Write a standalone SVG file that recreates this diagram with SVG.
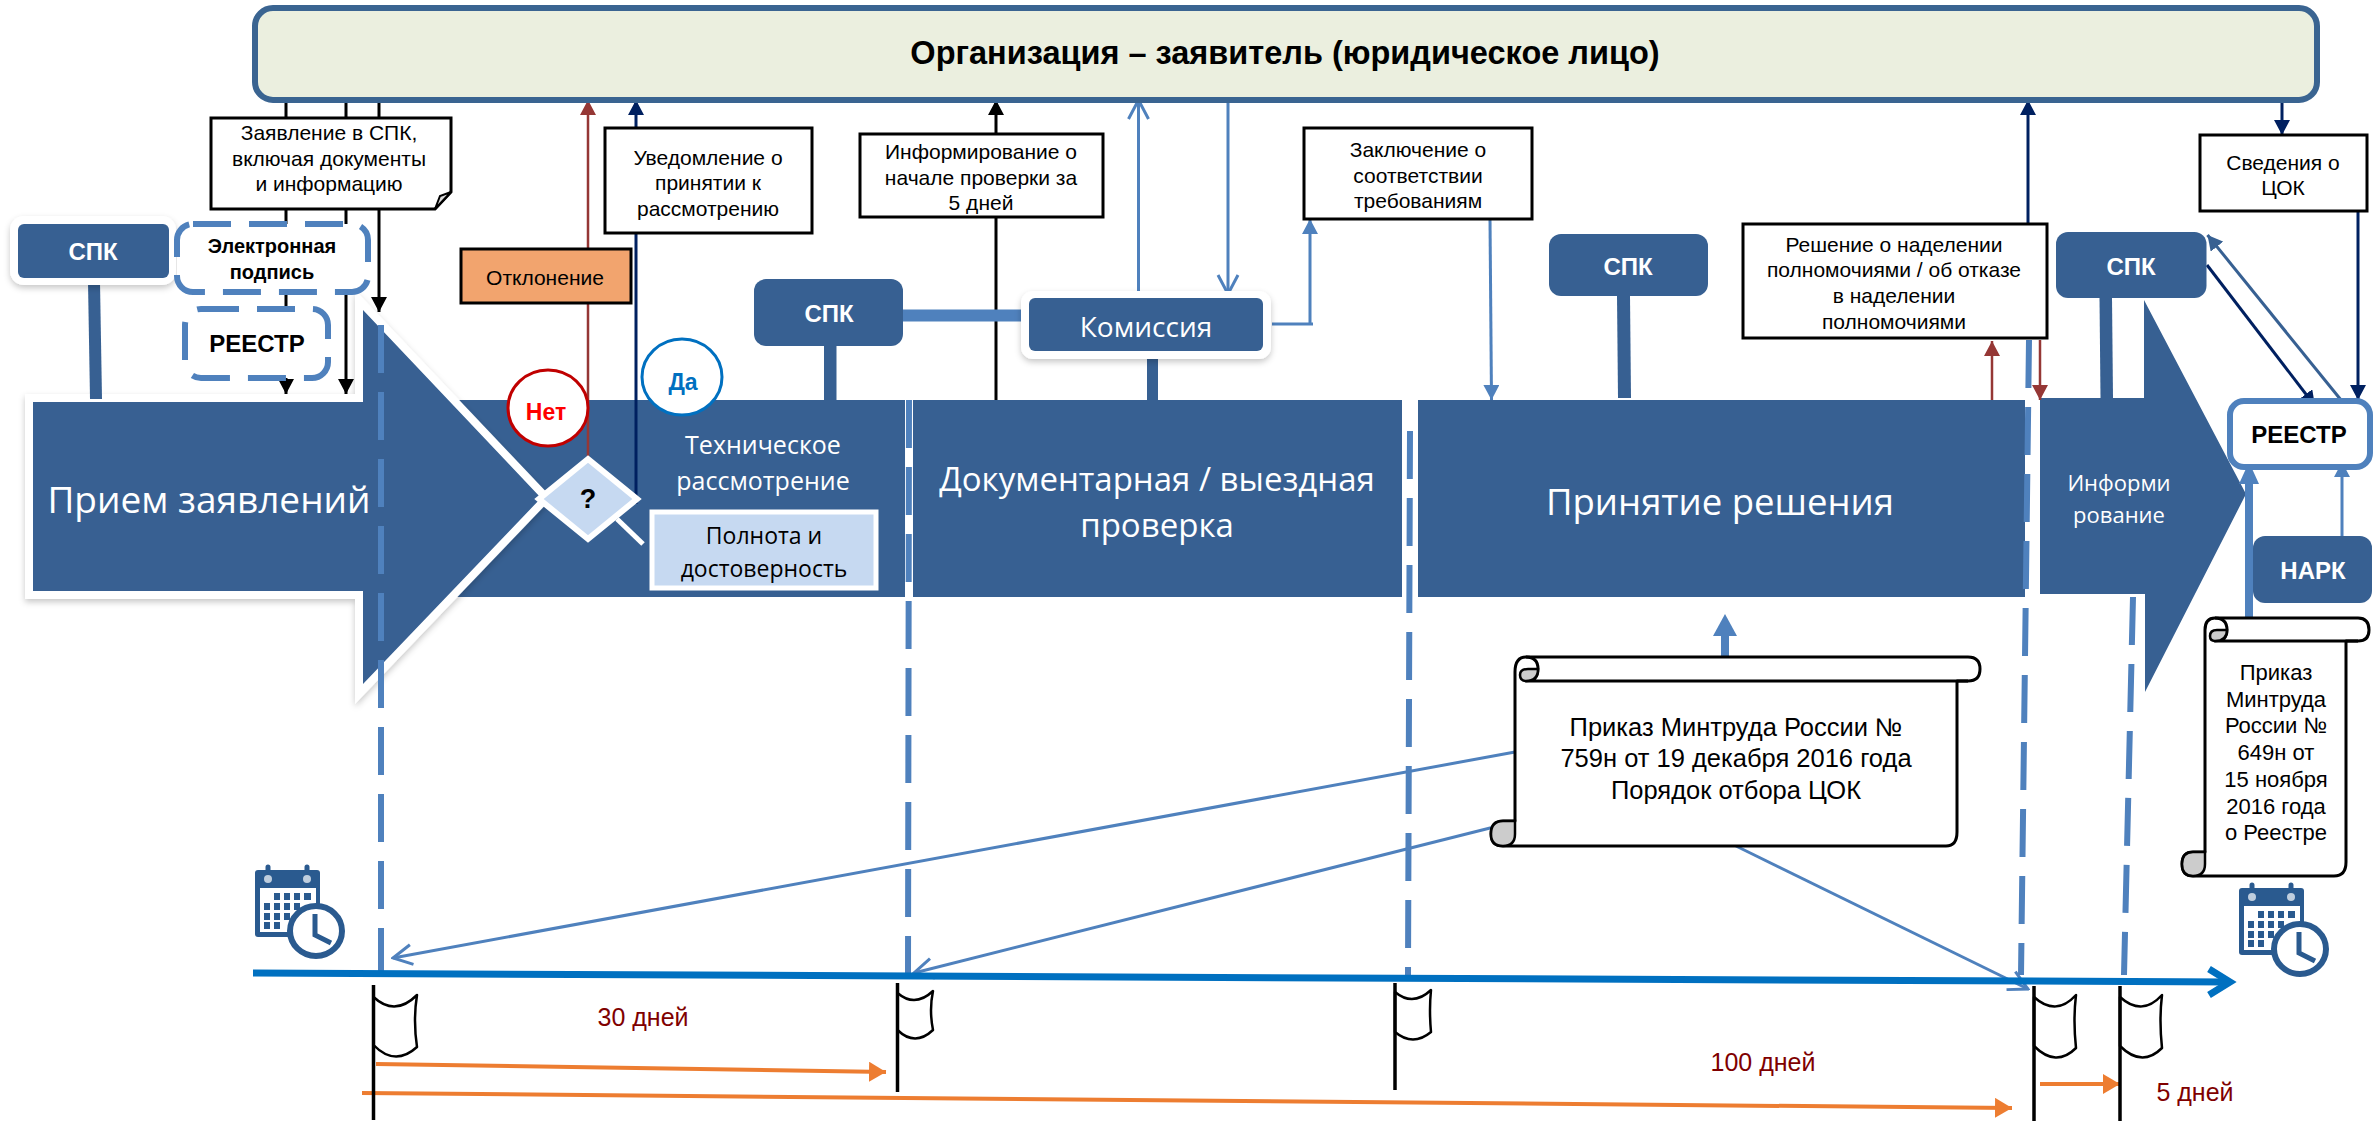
<svg xmlns="http://www.w3.org/2000/svg" xmlns:xlink="http://www.w3.org/1999/xlink" width="2379" height="1121" viewBox="0 0 2379 1121">
<style>
text{font-family:"Liberation Sans",Arial,sans-serif;text-anchor:middle;dominant-baseline:central}
.lbl{font-size:21px;fill:#000}
.big{font-size:25.500px;fill:#000}
.op{font-family:"Open Sans","Noto Sans",sans-serif;fill:#fff}
.wb{font-weight:bold;fill:#fff;font-size:24px}
.bb{font-weight:bold;fill:#000}
.stage{fill:#376092}
.box{fill:#fff;stroke:#000;stroke-width:3}
.dark{fill:#376092}
.halo{fill:#fff;filter:url(#sh)}
.dash{fill:#fff;stroke:#4F81BD;stroke-width:6;stroke-dasharray:38 18}
.vd{fill:none;stroke:#4F81BD;stroke-width:6;stroke-dasharray:48 19}
.stem{fill:#376092}
.scroll{fill:#fff;stroke:#000;stroke-width:3;stroke-linejoin:round}
.curl{fill:#ccc;stroke:#000;stroke-width:2.5}
.pole{stroke:#000;stroke-width:3.5;fill:none}
.flag{fill:#fff;stroke:#000;stroke-width:2.5;stroke-linejoin:round}
.days{font-size:25px;fill:#7F0000}
.k{stroke:#000;stroke-width:3;fill:none}
.r{stroke:#953735;stroke-width:2.5;fill:none}
.n{stroke:#002060;stroke-width:3;fill:none}
.b{stroke:#4F81BD;stroke-width:3;fill:none}
.o{stroke:#ED7D31;stroke-width:4;fill:none}
</style>
<defs>
<filter id="sh" x="-10%" y="-15%" width="120%" height="135%"><feDropShadow dx="0" dy="3" stdDeviation="3" flood-color="#000" flood-opacity=".22"/></filter>
<marker id="mk" markerUnits="userSpaceOnUse" markerWidth="18" markerHeight="16" refX="15" refY="8" orient="auto"><path d="M0 0L15 8L0 16Z" fill="#000"/></marker>
<marker id="mr" markerUnits="userSpaceOnUse" markerWidth="18" markerHeight="16" refX="15" refY="8" orient="auto"><path d="M0 0L15 8L0 16Z" fill="#953735"/></marker>
<marker id="mn" markerUnits="userSpaceOnUse" markerWidth="18" markerHeight="16" refX="15" refY="8" orient="auto"><path d="M0 0L15 8L0 16Z" fill="#002060"/></marker>
<marker id="mb" markerUnits="userSpaceOnUse" markerWidth="18" markerHeight="16" refX="15" refY="8" orient="auto"><path d="M0 0L15 8L0 16Z" fill="#4F81BD"/></marker>
<marker id="md" markerUnits="userSpaceOnUse" markerWidth="18" markerHeight="16" refX="15" refY="8" orient="auto"><path d="M0 0L15 8L0 16Z" fill="#376092"/></marker>
<marker id="mo" markerUnits="userSpaceOnUse" markerWidth="20" markerHeight="20" refX="17" refY="10" orient="auto"><path d="M0 0L17 10L0 20Z" fill="#ED7D31"/></marker>
<marker id="mv" markerUnits="userSpaceOnUse" markerWidth="22" markerHeight="24" refX="20" refY="12" orient="auto"><path d="M1 2L20 12L1 22" fill="none" stroke="#4F81BD" stroke-width="3"/></marker>
<g id="cal">
<rect x="0" y="3" width="65" height="67" rx="3" fill="#2A5A8F"/>
<rect x="5" y="21" width="56" height="44" fill="#fff"/>
<path d="M13 0v12M52 0v12" stroke="#2A5A8F" stroke-width="5" stroke-linecap="round"/>
<circle cx="13" cy="12" r="4" fill="#fff" opacity=".7"/><circle cx="52" cy="12" r="4" fill="#fff" opacity=".7"/>
<path fill="#2A5A8F" d="M19 26h6v7h-6zM29 26h6v7h-6zM39 26h6v7h-6zM49 26h7v7h-7zM9 36h6v7h-6zM19 36h6v7h-6zM29 36h6v7h-6zM39 36h6v7h-6zM9 46h6v7h-6zM19 46h6v7h-6zM29 46h6v7h-6zM9 55h6v7h-6zM19 55h6v7h-6z"/>
<ellipse cx="61" cy="64" rx="26" ry="25" fill="#fff" stroke="#2A5A8F" stroke-width="6"/>
<path d="M60 47V68L76 76" fill="none" stroke="#2A5A8F" stroke-width="5"/>
</g>
</defs>

<g id="stage-tech"><rect class="stage" x="450" y="400" width="455" height="197"/></g>
<g id="stage-doc"><rect class="stage" x="913" y="400" width="489" height="197"/></g>
<g id="stage-dec"><rect class="stage" x="1418" y="400" width="607" height="197"/></g>
<g id="stage-info"><path class="stage" d="M2040 398H2144V300L2246 494L2145 692V594H2040Z"/></g>
<g id="stage-intake"><path class="stage" d="M33 402H363V310L541 498L363 684V591H33Z" stroke="#fff" stroke-width="16" stroke-miterlimit="10" paint-order="stroke" filter="url(#sh)"/><path d="M617 519L643 544" stroke="#fff" stroke-width="5"/></g>

<g id="connectors">
<path class="k" d="M286 100V394" marker-end="url(#mk)"/>
<path class="k" d="M346 100V394" marker-end="url(#mk)"/>
<path class="k" d="M379 98V312" marker-end="url(#mk)"/>
<path class="r" d="M588 465V100" marker-end="url(#mr)"/>
<path class="n" d="M636 504V100" marker-end="url(#mn)"/>
<path class="k" d="M996 400V100" marker-end="url(#mk)"/>
<path class="b" d="M1138.500 294V100" marker-end="url(#mv)"/>
<path class="b" d="M1228 98V294" marker-end="url(#mv)"/>
<path class="b" d="M1272 324H1313M1310 324V219" marker-end="url(#mb)"/>
<path class="b" d="M1490 219L1491.500 400" marker-end="url(#mb)"/>
<path class="n" d="M2028 224V100" marker-end="url(#mn)"/>
<path class="r" d="M1992 400V341" marker-end="url(#mr)"/>
<path class="r" d="M2040 340V400" marker-end="url(#mr)"/>
<path class="n" d="M2282 99V135" marker-end="url(#mn)"/>
<path class="n" d="M2358 211V400" marker-end="url(#mn)"/>
<path class="n" d="M2207 265L2315 406" marker-end="url(#mn)"/>
<path d="M2341 400L2207.500 235" stroke="#376092" stroke-width="3" fill="none" marker-end="url(#md)"/>
<path class="b" d="M2342 536V462" marker-end="url(#mb)"/>
<path d="M2249 620V480" stroke="#4F81BD" stroke-width="8" fill="none"/><path d="M2239 484L2249 462L2259 484Z" fill="#4F81BD"/>
<path d="M1725 657V634" stroke="#4F81BD" stroke-width="8" fill="none"/><path d="M1713 636L1725 614L1737 636Z" fill="#4F81BD"/>
<path class="b" d="M1515 752L393 958" marker-end="url(#mv)"/>
<path class="b" d="M1506 824L914 973" marker-end="url(#mv)"/>
<path class="b" d="M1736 846L2028 989" marker-end="url(#mv)" stroke-width="2.500"/>
<path d="M903 315.500H1026" stroke="#4F81BD" stroke-width="12" fill="none"/>
<path class="stem" d="M88 282H100L102 399H90Z"/>
<path class="stem" d="M824 346H836.500V400H824Z"/>
<path class="stem" d="M1147 359H1158V400H1147Z"/>
<path class="stem" d="M1617 296H1630L1631 398H1618Z"/>
<path class="stem" d="M2099.500 298H2112L2113 398H2100.500Z"/>
<path class="vd" d="M381 325V973"/>
<path class="vd" d="M909 400L908 973"/>
<path class="vd" d="M1410 431L1408 975"/>
<path class="vd" d="M2029 340L2021 975"/>
<path class="vd" d="M2133 597L2124 975"/>
<path d="M253 973L2230 982" stroke="#0070C0" stroke-width="7" fill="none"/>
<path d="M2209 969L2230 982L2209 995" stroke="#0070C0" stroke-width="7" fill="none"/>
<path class="o" d="M376 1064L886 1072" marker-end="url(#mo)"/>
<path class="o" d="M362 1093L2012 1108" marker-end="url(#mo)"/>
<path class="o" d="M2040 1084H2120" marker-end="url(#mo)"/>
</g>

<g id="org"><rect x="255" y="8" width="2062" height="92" rx="18" fill="#EBEFDF" stroke="#3A6491" stroke-width="6"/><text x="1285" y="53" class="bb" font-size="32.500">Организация – заявитель (юридическое лицо)</text></g>

<g id="doc-application"><path class="box" d="M211 118H451V192L435 209H211Z"/><path d="M435 209L440 196L451 192Z" fill="#ddd" stroke="#000" stroke-width="2"/><text class="lbl" x="329" y="132">Заявление в СПК,</text><text class="lbl" x="329" y="158">включая документы</text><text class="lbl" x="329" y="183">и информацию</text></g>
<g id="spk-1"><rect class="halo" x="10" y="216" width="166" height="69" rx="14"/><rect class="dark" x="18" y="224" width="151" height="54" rx="6"/><text class="wb" x="93" y="251">СПК</text></g>
<g id="esign"><rect class="dash" x="177" y="224" width="191" height="68" rx="16"/><text class="bb" font-size="20" x="272" y="246">Электронная</text><text class="bb" font-size="20" x="272" y="272">подпись</text></g>
<g id="registry-1"><rect class="dash" x="185" y="309" width="143" height="69" rx="16"/><text class="bb" font-size="24" x="257" y="343">РЕЕСТР</text></g>
<g id="reject"><rect x="461" y="249" width="170" height="54" fill="#F2A46E" stroke="#000" stroke-width="3"/><text class="lbl" x="545" y="277">Отклонение</text></g>
<g id="notice"><rect class="box" x="605" y="128" width="207" height="105"/><text class="lbl" x="708" y="157">Уведомление о</text><text class="lbl" x="708" y="182">принятии к</text><text class="lbl" x="708" y="208">рассмотрению</text></g>
<g id="no"><ellipse cx="548" cy="408" rx="40" ry="38" fill="#fff" stroke="#C00000" stroke-width="3"/><text x="546" y="412" font-size="23" font-weight="bold" fill="#F00">Нет</text></g>
<g id="yes"><ellipse cx="682" cy="377" rx="40" ry="38" fill="#fff" stroke="#0070C0" stroke-width="3"/><text x="683" y="382" font-size="23" font-weight="bold" fill="#0070C0">Да</text></g>
<g id="decision"><path d="M588 459L637 499L588 539L539 499Z" fill="#C6D9F1" stroke="#fff" stroke-width="6"/><text class="bb" x="588" y="499" font-size="27">?</text></g>
<g id="complete"><rect x="652" y="512" width="224" height="76" fill="#C6D9F1" stroke="#fff" stroke-width="5"/><text x="764" y="535" font-size="23" class="op" style="fill:#000">Полнота и</text><text x="764" y="568" font-size="23" class="op" style="fill:#000">достоверность</text></g>
<g id="text-tech"><text class="op" x="763" y="444" font-size="25">Техническое</text><text class="op" x="763" y="480" font-size="25">рассмотрение</text></g>
<g id="text-intake"><text class="op" x="209" y="498" font-size="37">Прием заявлений</text></g>
<g id="text-doc"><text class="op" x="1157" y="478" font-size="33">Документарная / выездная</text><text class="op" x="1157" y="524" font-size="33">проверка</text></g>
<g id="text-dec"><text class="op" x="1720" y="501" font-size="36.500">Принятие решения</text></g>
<g id="text-info"><text class="op" x="2119" y="482" font-size="22">Информи</text><text class="op" x="2119" y="514" font-size="22">рование</text></g>

<g id="spk-2"><rect class="dark" x="754" y="279" width="149" height="67" rx="12"/><text class="wb" x="829" y="313">СПК</text></g>
<g id="commission"><rect class="halo" x="1021" y="291" width="250" height="68" rx="12"/><rect class="dark" x="1029" y="298" width="234" height="53" rx="6"/><text class="op" x="1146" y="326" font-size="28">Комиссия</text></g>
<g id="inform"><rect class="box" x="860" y="134" width="243" height="83"/><text class="lbl" x="981" y="151">Информирование о</text><text class="lbl" x="981" y="177">начале проверки за</text><text class="lbl" x="981" y="202">5 дней</text></g>
<g id="conclusion"><rect class="box" x="1304" y="128" width="228" height="91"/><text class="lbl" x="1418" y="149">Заключение о</text><text class="lbl" x="1418" y="175">соответствии</text><text class="lbl" x="1418" y="200">требованиям</text></g>
<g id="spk-3"><rect class="dark" x="1549" y="234" width="159" height="62" rx="12"/><text class="wb" x="1628" y="266">СПК</text></g>
<g id="ruling"><rect class="box" x="1743" y="224" width="304" height="114"/><text class="lbl" x="1894" y="244">Решение о наделении</text><text class="lbl" x="1894" y="269">полномочиями / об отказе</text><text class="lbl" x="1894" y="295">в наделении</text><text class="lbl" x="1894" y="321">полномочиями</text></g>
<g id="spk-4"><rect class="dark" x="2056" y="232" width="150.500" height="66" rx="12"/><text class="wb" x="2131" y="266">СПК</text></g>
<g id="info-cok"><rect class="box" x="2200" y="135" width="167" height="76"/><text class="lbl" x="2283" y="162">Сведения о</text><text class="lbl" x="2283" y="187">ЦОК</text></g>
<g id="registry-2"><rect x="2230" y="401" width="140" height="66" rx="14" fill="#fff" stroke="#4F81BD" stroke-width="6"/><text class="bb" font-size="24" x="2299" y="434">РЕЕСТР</text></g>
<g id="nark"><rect class="dark" x="2253" y="536" width="119" height="67" rx="12"/><text class="wb" x="2313" y="570">НАРК</text></g>

<g id="scroll-1"><path class="scroll" d="M1515 672Q1515 657 1526 657H1968Q1980 657 1980 669Q1980 681 1968 681H1957V832Q1957 846 1946 846H1503Q1491 846 1491 834Q1491 821 1503 821H1515Z"/><path class="scroll" style="fill:none" d="M1526 657Q1538 657 1538 669Q1538 681 1526 681H1968"/><path class="curl" d="M1538 669Q1538 681 1526 681Q1520 681 1520 675Q1520 669 1528 669Z"/><path class="curl" d="M1503 821Q1491 821 1491 834Q1491 846 1503 846Q1515 846 1515 834V821Z"/><text class="big" x="1736" y="727">Приказ Минтруда России №</text><text class="big" x="1736" y="758">759н от 19 декабря 2016 года</text><text class="big" x="1736" y="790">Порядок отбора ЦОК</text></g>
<g id="scroll-2"><path class="scroll" d="M2205 630Q2205 618 2215 618H2358Q2369 618 2369 630Q2369 641 2358 641H2346V862Q2346 876 2334 876H2193Q2182 876 2182 864Q2182 852 2193 852H2205Z"/><path class="scroll" style="fill:none" d="M2215 618Q2227 618 2227 630Q2227 641 2215 641H2358"/><path class="curl" d="M2227 630Q2227 641 2215 641Q2210 641 2210 636Q2210 630 2217 630Z"/><path class="curl" d="M2193 852Q2182 852 2182 864Q2182 876 2193 876Q2205 876 2205 864V852Z"/><text class="lbl" style="font-size:22px" x="2276" y="672">Приказ</text><text class="lbl" style="font-size:22px" x="2276" y="699">Минтруда</text><text class="lbl" style="font-size:22px" x="2276" y="725">России №</text><text class="lbl" style="font-size:22px" x="2276" y="752">649н от</text><text class="lbl" style="font-size:22px" x="2276" y="779">15 ноября</text><text class="lbl" style="font-size:22px" x="2276" y="806">2016 года</text><text class="lbl" style="font-size:22px" x="2276" y="832">о Реестре</text></g>

<g id="calendar-1"><use href="#cal" x="255" y="867"/></g>
<g id="calendar-2"><use href="#cal" x="2239" y="885"/></g>

<g id="flag-1"><path class="flag" d="M373.500 997Q395 1017 417 995Q413 1020 417 1047Q395 1067 373.500 1045Z"/><path class="pole" d="M373.500 985V1120"/></g>
<g id="flag-2"><path class="flag" d="M897.500 993Q915 1008 933 991Q929 1010 933 1030Q915 1047 897.500 1030Z"/><path class="pole" d="M897.500 983V1092" stroke-width="3"/></g>
<g id="flag-3"><path class="flag" d="M1395 992Q1413 1007 1431 990Q1429 1010 1431 1032Q1413 1047 1395 1032Z"/><path class="pole" d="M1395 983V1090"/></g>
<g id="flag-4"><path class="flag" d="M2034 997Q2056 1017 2076 995Q2073 1020 2076 1048Q2056 1068 2034 1046Z"/><path class="pole" d="M2034 986V1121"/></g>
<g id="flag-5"><path class="flag" d="M2120 997Q2142 1017 2162 995Q2159 1020 2162 1048Q2142 1068 2120 1046Z"/><path class="pole" d="M2120 986V1121"/></g>

<g id="labels"><text class="days" x="643" y="1017">30 дней</text><text class="days" x="1763" y="1062">100 дней</text><text class="days" x="2195" y="1092">5 дней</text></g>
</svg>
